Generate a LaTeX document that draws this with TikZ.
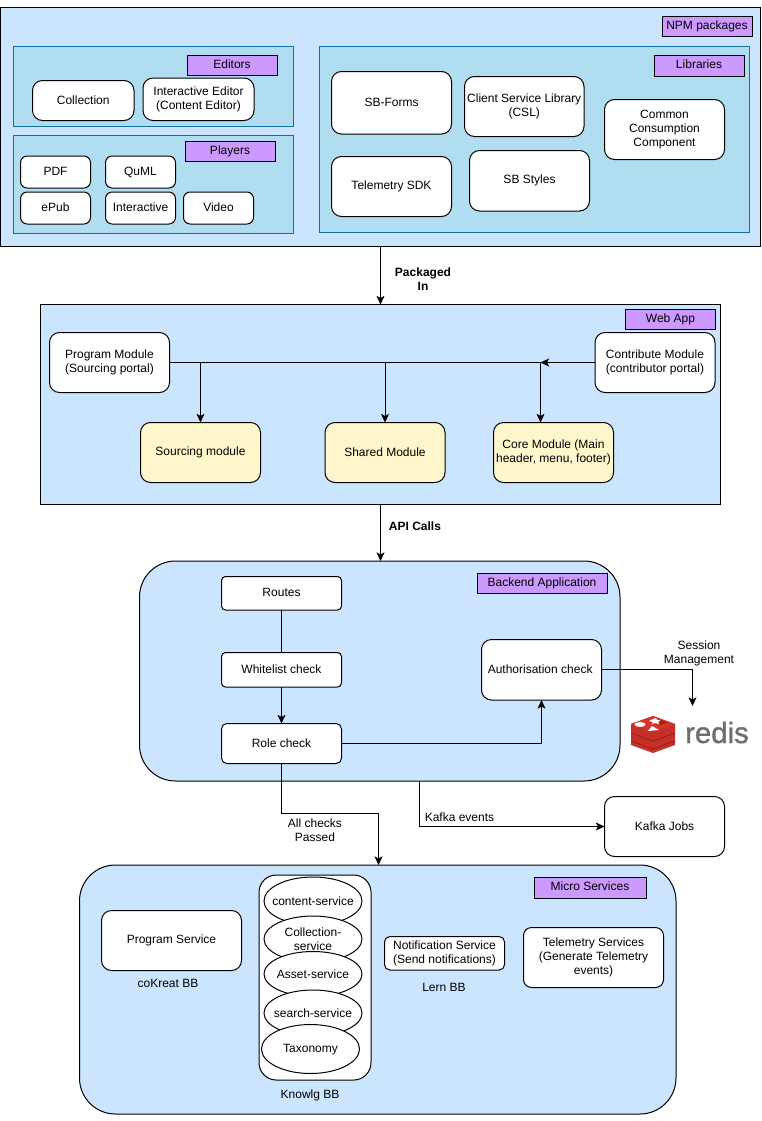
\documentclass[tikz,border=0pt]{standalone}
\usepackage{fontspec}
\setmainfont{Liberation Sans}
\newfontfamily\redisfont[FakeBold=1.2]{Liberation Sans}
\usetikzlibrary{arrows.meta,shapes.geometric,calc}
\tikzset{
  base/.style={draw=black,line width=0.75pt,outer sep=0pt,inner sep=0pt,align=center,font=\fontsize{9}{10.5}\selectfont,text=black},
  outerbox/.style={base,fill=panelblue},
  tealbox/.style={base,fill=panelteal,draw=tealedge},
  tagbox/.style={base,fill=tagpurple},
  rbox/.style={base,fill=white,rounded corners=7.5pt},
  ybox/.style={base,fill=softyellow,rounded corners=7.5pt},
  bigbox/.style={base,fill=panelblue,rounded corners=27pt},
  ell/.style={base,fill=white,ellipse},
  lbl/.style={font=\fontsize{9}{10.5}\selectfont,align=center,text=black,inner sep=0pt},
  blbl/.style={lbl,font=\fontsize{9}{10.5}\selectfont\bfseries},
  conn/.style={draw=black,line width=0.75pt},
  arr/.style={conn,-{Stealth[length=6.5pt,width=6pt,inset=1.6pt]}},
}
\definecolor{panelblue}{HTML}{CCE5FF}
\definecolor{panelteal}{HTML}{B1DDF0}
\definecolor{tealedge}{HTML}{10739E}
\definecolor{tagpurple}{HTML}{CC99FF}
\definecolor{softyellow}{HTML}{FFF6CC}
\definecolor{redisa}{HTML}{C6302B}
\definecolor{redisb}{HTML}{9E2118}
\definecolor{redisc}{HTML}{D4362C}
\definecolor{redisgray}{HTML}{6D6E71}
\newcommand{\bx}[7][]{\node[#2,minimum width={(#5-#3)*0.75pt},minimum height={(#6-#4)*0.75pt},#1] (#7) at ({(#3+#5)/2},{-(#4+#6)/2})}
\newcommand{\tg}[6]{\node[tagbox,minimum width={(#4-#2)*0.75pt},minimum height={(#5-#3)*0.75pt}] (#1) at ({(#2+#4)/2},{-(#3+#5)/2}) {\raisebox{1.5pt}{#6}};}
\newcommand{\up}[1]{\raisebox{0.6pt}{\begin{tabular}{@{}c@{}}#1\end{tabular}}}
\begin{document}
\begin{tikzpicture}[x=0.75pt,y=0.75pt]
\useasboundingbox[fill=white] (0,0) rectangle (761,-1121);
% NPM
\bx{outerbox}{0}{7}{760}{246}{npm} {};
\tg{npmtag}{662}{16}{752}{36}{NPM packages}
\bx{tealbox}{13}{46}{293}{126}{editors} {};
\tg{edtag}{187}{55}{277}{75}{Editors}
\bx{rbox}{32.5}{80.5}{134}{120.5}{coll} {\raisebox{0.6pt}{Collection}};
\bx{rbox}{143}{78}{254}{120.5}{inted} {Interactive Editor\\(Content Editor)};
\bx{tealbox}{13}{135}{293}{233}{players} {};
\tg{pltag}{185}{141}{275}{161}{Players}
\bx[rounded corners=5pt]{rbox}{20.5}{156}{90.5}{188}{pdf} {\raisebox{0.6pt}{PDF}};
\bx[rounded corners=5pt]{rbox}{105.5}{156}{175.5}{188}{quml} {\raisebox{0.6pt}{QuML}};
\bx[rounded corners=5pt]{rbox}{20.5}{192}{90.5}{224}{epub} {\raisebox{0.6pt}{ePub}};
\bx[rounded corners=5pt]{rbox}{105.5}{192}{175.5}{224}{inter} {\raisebox{0.6pt}{Interactive}};
\bx[rounded corners=5pt]{rbox}{183.5}{192}{253.5}{224}{video} {\raisebox{0.6pt}{Video}};
\bx{tealbox}{319}{46}{749}{232}{libs} {};
\tg{libtag}{654}{55}{744}{76}{Libraries}
\bx{rbox}{331.5}{71.5}{451.5}{134}{forms} {\raisebox{0.6pt}{SB-Forms}};
\bx{rbox}{464.5}{76.5}{584}{136.5}{csl} {Client Service Library\\(CSL)};
\bx{rbox}{604.5}{99.5}{724.5}{159.5}{ccc} {Common\\Consumption\\Component};
\bx{rbox}{331.5}{156.5}{451.5}{216.5}{tsdk} {\raisebox{0.6pt}{Telemetry SDK}};
\bx{rbox}{469.5}{150.5}{589.5}{211}{styles} {SB Styles};
% Web app
\bx{outerbox}{40.5}{304.5}{720.5}{504}{web} {};
\tg{webtag}{625.5}{309}{715.5}{329}{Web App}
\bx{rbox}{49.5}{332.5}{169.5}{392.5}{prog} {Program Module\\(Sourcing portal)};
\bx{rbox}{595}{332.5}{715}{392.5}{contrib} {Contribute Module\\(contributor portal)};
\bx{ybox}{140.5}{422.5}{260.5}{482.5}{sourcing} {\raisebox{0.6pt}{Sourcing module}};
\bx{ybox}{325}{422.5}{445}{482.5}{shared} {\raisebox{0.6pt}{Shared Module}};
\bx{ybox}{493.5}{422.5}{613.5}{482.5}{core} {Core Module (Main\\header, menu, footer)};
\coordinate (j1) at (sourcing.north |- prog.east);
\coordinate (j2) at (shared.north |- prog.east);
\coordinate (j3) at (540.5,-362.5);
\draw[conn] (prog.east) -- (j3);
\draw[arr] (contrib.west) -- (j3);
\draw[arr] (j1) -- (sourcing.north);
\draw[arr] (j2) -- (shared.north);
\draw[arr] (j3) -- (j3 |- core.north);
% Backend
\bx{bigbox}{139.5}{561}{620}{781}{back} {};
\tg{backtag}{477}{573}{607}{593}{Backend Application}
\bx[rounded corners=3pt]{rbox}{221.5}{576.5}{341.5}{610}{routes} {\raisebox{1.5pt}{Routes}};
\bx[rounded corners=3pt]{rbox}{221.5}{652.5}{341.5}{687}{white} {\raisebox{1pt}{Whitelist check}};
\bx[rounded corners=4pt]{rbox}{221.5}{723.5}{341.5}{763.5}{role} {\raisebox{0.6pt}{Role check}};
\bx{rbox}{481.5}{639.5}{601.5}{700}{auth} {\hspace*{-2pt}\raisebox{0.6pt}{Authorisation check}};
\bx{rbox}{604.5}{796.5}{724.5}{856.5}{kafka} {\raisebox{0.6pt}{Kafka Jobs}};
% Micro
\bx{bigbox}{79.5}{865}{676}{1114}{micro} {};
\tg{mictag}{534}{877}{646}{898}{Micro Services}
\bx{rbox}{101.5}{910.5}{241.5}{970.5}{progsvc} {Program Service};
\bx[rounded corners=13pt]{rbox}{259}{875}{371}{1080}{know} {};
\node[ell,minimum width={98*0.75pt},minimum height={48*0.75pt},label={[lbl]center:content-service}] (e1) at (313,-901) {};
\node[ell,minimum width={98*0.75pt},minimum height={46*0.75pt},label={[lbl]center:Collection-\\service}] (e2) at (313,-939) {};
\node[ell,minimum width={98*0.75pt},minimum height={45*0.75pt},label={[lbl]center:Asset-service}] (e3) at (313,-974) {};
\node[ell,minimum width={98*0.75pt},minimum height={46*0.75pt},label={[lbl]center:search-service}] (e4) at (313,-1013) {};
\node[ell,minimum width={98*0.75pt},minimum height={49*0.75pt},label={[lbl,yshift=-0.4pt]center:Taxonomy}] (e5) at (310.5,-1049) {};
\bx[rounded corners=4pt]{rbox}{384.5}{936.5}{504.5}{970}{notif} {Notification Service\\(Send notifications)};
\bx[rounded corners=6pt]{rbox}{523.5}{927.5}{663.5}{987.5}{telsvc} {Telemetry Services\\(Generate Telemetry\\events)};
\node[lbl] (lbco) at (168,-983.5) {coKreat BB};
\node[lbl] (lblern) at (444,-987.5) {Lern BB};
\node[lbl] (lbkn) at (310,-1095) {Knowlg BB};
% Connectors
\draw[arr] (npm.south -| 380.5,0) -- (web.north -| 380.5,0);
\node[blbl] (lbpack) at (423,-279) {Packaged\\In};
\draw[arr] (web.south -| 380.5,0) -- (back.north -| 380.5,0);
\node[blbl] (lbapi) at (415,-526.5) {API Calls};
\draw[conn] (routes.south) -- (white.north);
\draw[arr] (white.south) -- (role.north);
\draw[arr] (role.east) -| (auth.south -| 541.5,0);
\coordinate (redistip) at (692.5,-706);
\draw[arr] (auth.east) -| (redistip);
\node[lbl] (lbsess) at (699,-653.5) {Session\\Management};
\coordinate (b1) at (281.5,-813);
\draw[arr] (role.south) -- (b1) -| (micro.north -| 378.5,0);
\node[lbl] (lbchk) at (315,-830) {All checks\\Passed};
\draw[arr] (back.south -| 419.5,0) |- (kafka.west);
\node[lbl] (lbkev) at (459.5,-817) {Kafka events};
% Redis logo
\begin{scope}[line join=round]
 \fill[redisa] (631,-724) -- (653,-716) -- (675,-724) -- (675,-745) -- (653,-753) -- (631,-745) -- cycle;
 \draw[redisb,line width=0.75pt] (631,-733) -- (653,-741) -- (675,-733);
 \draw[redisb,line width=0.75pt] (631,-741) -- (653,-749) -- (675,-741);
 \fill[redisc] (631,-724) -- (653,-716) -- (675,-724) -- (653,-732) -- cycle;
 \fill[white] (640,-724.5) ellipse [x radius=5.5, y radius=2.4];
 \fill[white] (652,-726) -- (648,-731) -- (659,-730) -- cycle;
 \fill[white] (653,-719) -- (656,-718) -- (657,-720) -- (661,-720) -- (658,-722) -- (659,-724) -- (655,-723) -- (652,-724) -- (653,-722) -- (649,-721) -- cycle;
 \fill[redisb] (660,-725) -- (668,-722.5) -- (660,-720) -- cycle;
\end{scope}
\node[font=\redisfont\fontsize{22}{22}\selectfont,text=redisgray,inner sep=0pt,anchor=base] (redistxt) at (717,-743) {redis};
\end{tikzpicture}
\end{document}
